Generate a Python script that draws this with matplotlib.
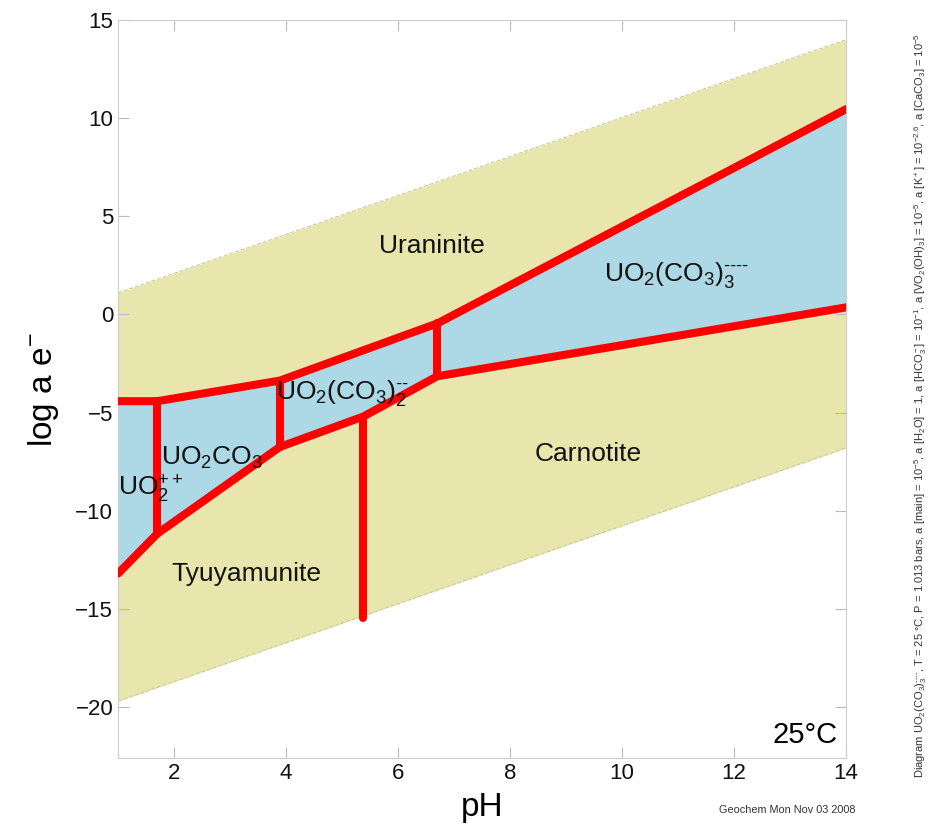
import matplotlib
matplotlib.use("Agg")
import matplotlib.pyplot as plt
import numpy as np

plt.rcParams['font.family'] = ['Liberation Sans', 'DejaVu Sans']
plt.rcParams['mathtext.fontset'] = 'custom'
plt.rcParams['mathtext.rm'] = 'Liberation Sans'
plt.rcParams['mathtext.it'] = 'Liberation Sans'
plt.rcParams['mathtext.default'] = 'regular'

# water stability limits (pH, log a e-)
water_ph = [1, 14]
water_top = [1.1, 14.0]
water_bot = [-19.7, -6.8]

# upper boundary of the aqueous field
upper_ph = [1, 1.7, 3.89, 6.7, 14]
upper_loge = [-4.42, -4.42, -3.37, -0.46, 10.46]

# lower boundary of the aqueous field
lower_ph = [1, 1.7, 3.89, 5.38, 6.7, 14]
lower_loge = [-13.2, -11.17, -6.75, -5.2, -3.15, 0.36]

# vertical boundaries: pH, top, bottom
vert_ph = [1.7, 3.89, 5.38, 6.7]
vert_top = [-4.42, -3.37, -5.2, -0.46]
vert_bot = [-11.17, -6.75, -15.46, -3.15]

DASH4 = '\u2010\u2010\u2010\u2010'
DASH2 = '\u2010\u2010'
field_names = ["Uraninite", r"UO$_2$(CO$_3$)$_3^{" + DASH4 + "}$", "Carnotite", "Tyuyamunite",
               r"UO$_2$CO$_3$", r"UO$_2^{++}$", r"UO$_2$(CO$_3$)$_2^{" + DASH2 + "}$"]
field_x = [6.6, 10.98, 9.4, 3.3, 2.68, 1.0, 5.0]
field_y = [3.5, 2.0, -7.1, -13.2, -7.3, -8.9, -4.0]
field_ha = ['center', 'center', 'center', 'center', 'center', 'left', 'center']

fig = plt.figure(figsize=(9.37, 8.27), dpi=100)
ax = fig.add_axes([0.126, 0.0834, 0.777, 0.8924])

YEL = '#e8e6ac'
BLUE = '#add8e6'
RED = '#ff0000'

ax.fill_between(water_ph, water_bot, water_top, color=YEL, lw=0, zorder=1)
ax.plot(water_ph, water_top, color='#cccc99', lw=0.8, ls='--', zorder=1.5)
ax.plot(water_ph, water_bot, color='#cccc99', lw=0.8, ls='--', zorder=1.5)

xs = np.linspace(1, 14, 500)
ax.fill_between(xs, np.interp(xs, lower_ph, lower_loge), np.interp(xs, upper_ph, upper_loge),
                color=BLUE, lw=0, zorder=2)

lw = 5.8
ax.plot(upper_ph, upper_loge, color=RED, lw=lw, solid_capstyle='round', solid_joinstyle='round', zorder=3)
ax.plot(lower_ph, lower_loge, color=RED, lw=lw, solid_capstyle='round', solid_joinstyle='round', zorder=3)
for p, t, b in zip(vert_ph, vert_top, vert_bot):
    ax.plot([p, p], [t, b], color=RED, lw=lw, solid_capstyle='round', zorder=3)

for name, x, y, ha in zip(field_names, field_x, field_y, field_ha):
    ax.text(x, y, name, fontsize=19, ha=ha, va='center', color='#111111', zorder=4)

ax.text(0.988, 0.012, "25°C", transform=ax.transAxes, fontsize=21, ha='right', va='bottom')

ax.set_xlim(1, 14)
ax.set_ylim(-22.6, 15)
ax.set_xticks([2, 4, 6, 8, 10, 12, 14])
ax.set_yticks([-20, -15, -10, -5, 0, 5, 10, 15])
ax.set_yticklabels(['\u221220', '\u221215', '\u221210', '\u22125', '0', '5', '10', '15'])
ax.tick_params(direction='in', length=8, color='#bbbbbb', labelsize=16, top=True, right=True,
               labelcolor='#111111')
for s in ax.spines.values():
    s.set_color('#cccccc')
    s.set_linewidth(0.8)
ax.set_xlabel("pH", fontsize=24, labelpad=6)
ax.set_ylabel(r"log a e$^{-}$", fontsize=24, labelpad=10)

fig.text(0.983, 0.51,
         r"Diagram UO$_2$(CO$_3$)$_3^{" + DASH4 + "}$, T = 25 °C, P = 1.013 bars, a [main] = 10$^{-5}$, "
         r"a [H$_2$O] = 1, a [HCO$_3^-$] = 10$^{-1}$, a [VO$_2$(OH)$_3$] = 10$^{-5}$, "
         r"a [K$^+$] = 10$^{-2.6}$, a [CaCO$_3$] = 10$^{-5}$",
         rotation=90, fontsize=8, ha='center', va='center', color='#333333')
fig.text(0.84, 0.02, "Geochem Mon Nov 03 2008", fontsize=7.8, ha='center', va='center', color='#333333')

fig.savefig("out.png", dpi=100)
